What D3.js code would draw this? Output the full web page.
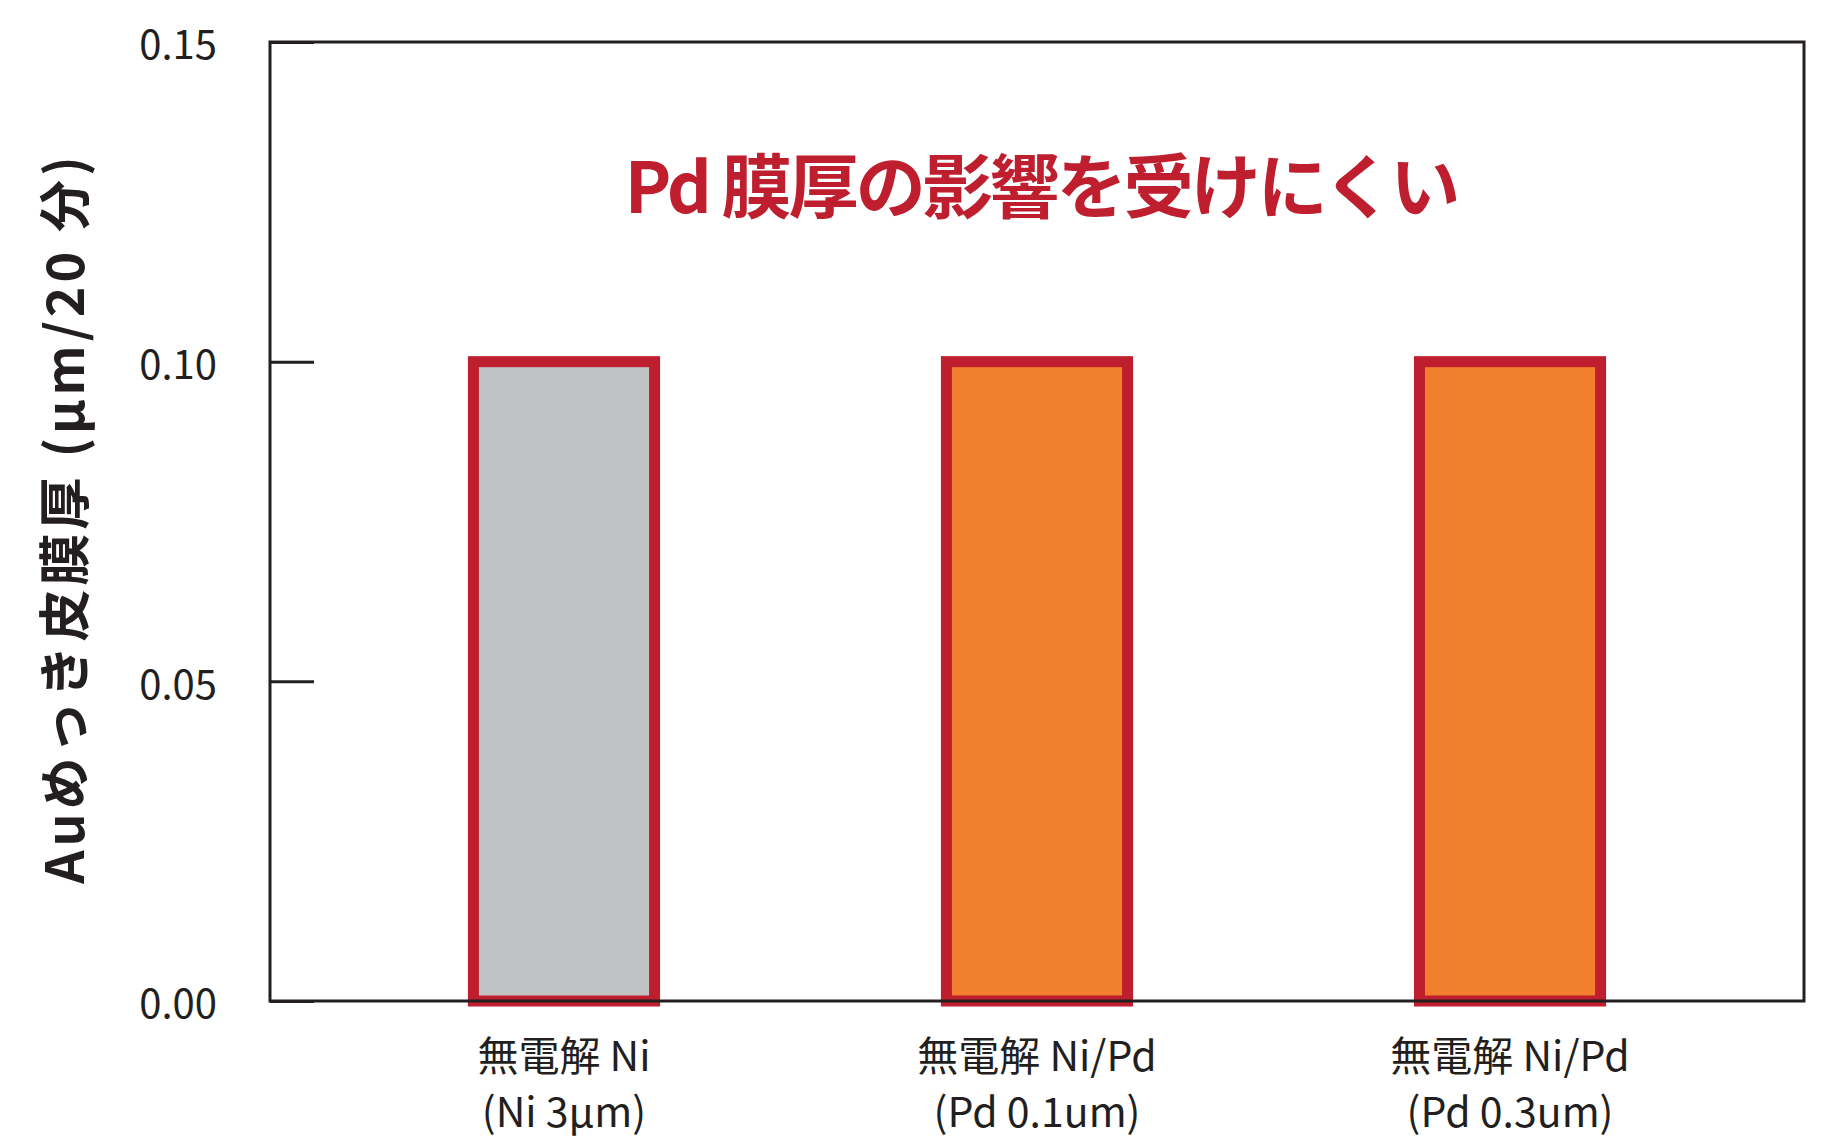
<!DOCTYPE html>
<html>
<head>
<meta charset="utf-8">
<script src="https://cdn.jsdelivr.net/npm/d3@7"></script>
<style>
  body { margin: 0; background: #fff; }
  svg { display: block; }
</style>
</head>
<body>
<div id="chart"></div>
<script>
// data
const categories = ["Ni", "NiPd01", "NiPd03"];
const labelLine1 = ["無電解 Ni", "無電解 Ni/Pd", "無電解 Ni/Pd"];
const labelLine2 = ["(Ni 3μm)", "(Pd 0.1um)", "(Pd 0.3um)"];
const values = [0.10, 0.10, 0.10];
const yTicks = [0, 0.05, 0.10, 0.15];
const annotation = "Pd 膜厚の影響を受けにくい";
const yTitle = "Auめっき皮膜厚 (μm/20 分)";

const W = 1830, H = 1145;
const margin = {top: 42, right: 26, bottom: 144, left: 270};
const width = W - margin.left - margin.right,
      height = H - margin.top - margin.bottom;

const latin = "'Liberation Sans Narrow', 'Noto Sans CJK JP', sans-serif";

const svg = d3.select("#chart")
  .append("svg")
    .attr("width", W)
    .attr("height", H)
  .append("g")
    .attr("transform", "translate(" + margin.left + "," + margin.top + ")");

const x = d3.scaleBand()
  .domain(categories)
  .range([0, width])
  .paddingInner(0.617)
  .paddingOuter(0.43);

const y = d3.scaleLinear()
  .domain([0, 0.15])
  .range([height, 0]);

// bars
svg.selectAll("rect.bar")
  .data(values)
  .enter()
  .append("rect")
    .attr("class", "bar")
    .attr("x", (d, i) => x(categories[i]))
    .attr("y", d => y(d))
    .attr("width", x.bandwidth())
    .attr("height", d => y(0) - y(d))
    .style("fill", (d, i) => i === 0 ? "#c1c2c4" : "#f17f2d")
    .style("stroke", "#be1e2d")
    .style("stroke-width", 11);

// frame
svg.append("rect")
  .attr("x", 0).attr("y", 0)
  .attr("width", width).attr("height", height)
  .style("fill", "none")
  .style("stroke", "#231f20")
  .style("stroke-width", 3);

// y axis
const yAxis = svg.append("g")
  .call(d3.axisLeft(y).tickValues(yTicks).tickFormat(d3.format(".2f"))
        .tickSizeInner(-44).tickSizeOuter(0).tickPadding(53));
yAxis.select(".domain").remove();
yAxis.selectAll(".tick line")
  .style("stroke", "#231f20")
  .style("stroke-width", 3);
yAxis.selectAll(".tick text")
  .attr("dy", "0.42em")
  .style("font-family", latin)
  .style("font-size", "40px")
  .style("fill", "#231f20");

// x labels
const xl = svg.selectAll("text.xlab")
  .data(categories)
  .enter()
  .append("text")
    .attr("class", "xlab")
    .attr("text-anchor", "middle")
    .attr("x", d => x(d) + x.bandwidth() / 2)
    .attr("y", height + 70)
    .style("font-family", latin)
    .style("font-size", "41px")
    .style("fill", "#231f20");
xl.append("tspan").text((d, i) => labelLine1[i]);
xl.append("tspan")
  .attr("x", d => x(d) + x.bandwidth() / 2)
  .attr("dy", 56)
  .text((d, i) => labelLine2[i]);

// annotation
svg.append("text")
  .attr("x", 771)
  .attr("y", 171)
  .attr("text-anchor", "middle")
  .style("font-family", latin)
  .style("font-weight", "bold")
  .style("font-size", "70px")
  .style("letter-spacing", "-3px")
  .style("fill", "#be1e2d")
  .text(annotation);

// y title
svg.append("text")
  .attr("transform", "translate(" + (-186) + "," + (476) + ") rotate(-90)")
  .attr("text-anchor", "middle")
  .style("font-family", "'Noto Sans CJK JP', sans-serif")
  .style("font-weight", "bold")
  .style("font-size", "52px")
  .style("letter-spacing", "4px")
  .style("fill", "#231f20")
  .text(yTitle);
</script>
</body>
</html>
